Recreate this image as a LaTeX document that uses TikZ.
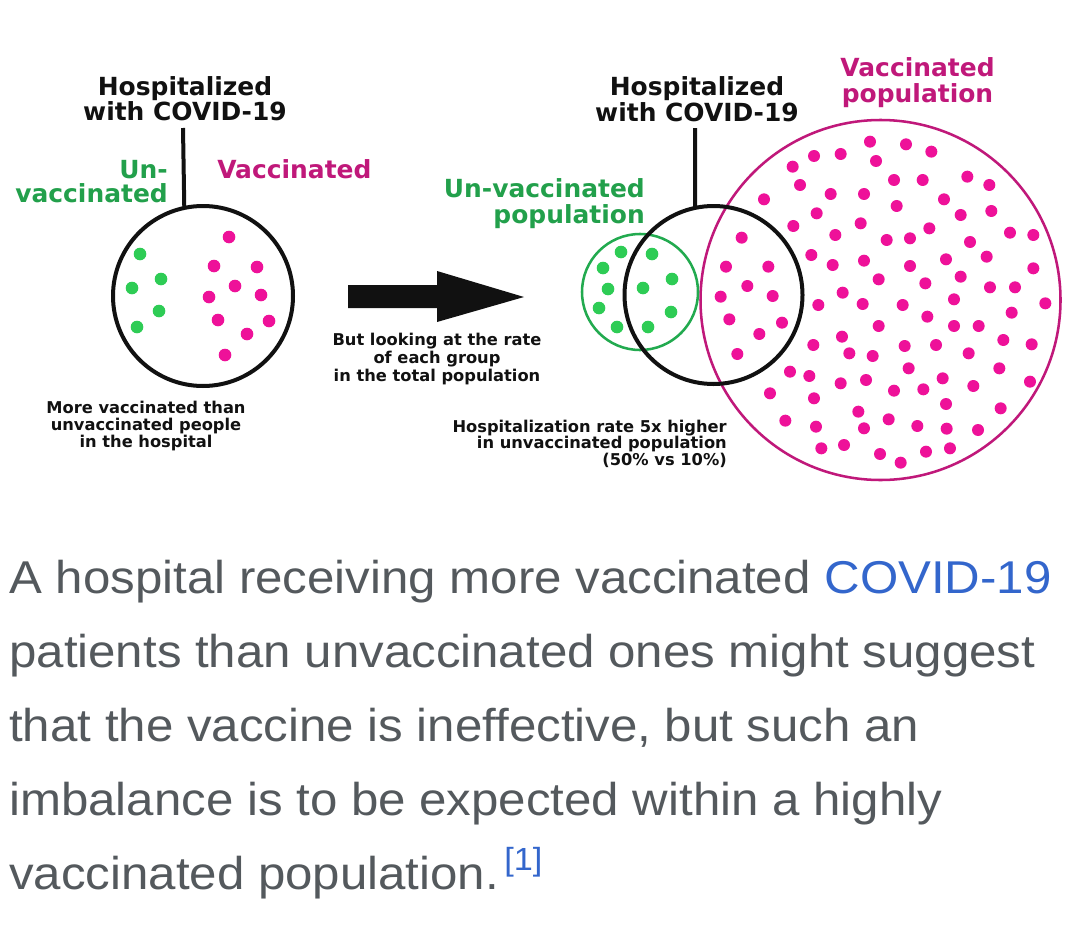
\documentclass[tikz,border=0pt]{standalone}
\usepackage{fontspec}
\setmainfont{DejaVu Sans}
\newfontfamily\capfont[FakeStretch=1.07]{Liberation Sans}
\definecolor{inkblack}{HTML}{111111}
\definecolor{txtgreen}{HTML}{22A04B}
\definecolor{dotgreen}{HTML}{2ECC55}
\definecolor{ringgreen}{HTML}{22AA4F}
\definecolor{dotpink}{HTML}{EE1199}
\definecolor{txtpink}{HTML}{C0187A}
\definecolor{capgray}{HTML}{54595D}
\definecolor{linkblue}{HTML}{3366CC}
\begin{document}
\begin{tikzpicture}[x=0.75pt,y=-0.75pt,
  head/.style={font=\bfseries\fontsize{18.7}{19}\selectfont, inner sep=0pt, anchor=base},
  smalltxt/.style={font=\bfseries\fontsize{12.2}{12}\selectfont, text=inkblack, inner sep=0pt, anchor=base},
  captxt/.style={font=\capfont\fontsize{34.5}{40}\selectfont, text=capgray, inner sep=0pt, anchor=base west},
  ring/.style={circle, inner sep=0pt, outer sep=0pt},
  mdot/.style={fill=dotpink},
  gdot/.style={fill=dotgreen}]
\useasboundingbox (0,0) rectangle (1080,942);
\fill[white] (0,0) rectangle (1080,942);

% ---------- left panel ----------
\node[head, text=inkblack] (hL1) at (185,95) {Hospitalized};
\node[head, text=inkblack] (hL2) at (185,120) {with COVID-19};
\node[head, text=txtgreen, anchor=base east] (uL1) at (168,178) {Un-};
\node[head, text=txtgreen, anchor=base east] (uL2) at (168,202) {vaccinated};
\node[head, text=txtpink, anchor=base west] (vL) at (217,178) {Vaccinated};
\node[ring, draw=inkblack, line width=3pt, minimum size=135pt] (hospL) at (203,296) {};
\coordinate (topL) at (183,128);
\draw[line width=3pt, inkblack] (topL) -- (hospL.102.8);
\foreach \p in {(140,254),(161,279),(132,288),(159,311),(137,327)}
  \fill[gdot] \p circle[radius=6.3];
\foreach \p in {(229,237),(214,266),(257,267),(235,286),(209,297),(261,295),(218,320),(269,321),(247,334),(225,355)}
  \fill[mdot] \p circle[radius=6.3];
\node[smalltxt] (mL1) at (146,413) {More vaccinated than};
\node[smalltxt] (mL2) at (146,430) {unvaccinated people};
\node[smalltxt] (mL3) at (146,447) {in the hospital};

% ---------- arrow ----------
\fill[inkblack] (348,285) -- (437,285) -- (437,271) -- (524,297) -- (437,322) -- (437,308) -- (348,308) -- cycle;
\node[smalltxt] (b1) at (437,345) {But looking at the rate};
\node[smalltxt] (b2) at (437,363) {of each group};
\node[smalltxt] (b3) at (437,381) {in the total population};

% ---------- right panel ----------
\node[ring, draw=txtpink, line width=1.9pt, minimum size=270pt] (vacpop) at (880.5,300) {};
\begin{scope}[shift={(690,50)}, scale=1/3]
\foreach \p in {(540,275),(648,283),(724,305),(372,318),(452,312),(558,333),(308,350),(330,405),(612,390),(698,390),(832,380),(898,405),(422,432),(522,432),(222,448),(620,468),(762,448),(380,490),(512,520),(812,495),(904,483),(310,528),(718,535),(960,548),(1030,555),(155,563),(436,555),(590,570),(660,565),(840,576),(364,615),(522,632),(768,628),(890,620),(108,650),(235,650),(428,645),(660,648),(1030,655),(566,688),(812,680),(172,708),(248,738),(92,740),(458,728),(706,700),(900,712),(975,712),(385,765),(518,762),(638,765),(792,748),(1066,760),(118,808),(276,818),(712,800),(965,788),(566,828),(792,828),(866,828),(208,852),(456,860),(370,885),(478,910),(548,918),(644,888),(738,885),(940,870),(1025,883),(142,912),(836,910),(656,955),(300,965),(358,978),(928,955),(240,1030),(452,1000),(528,990),(612,1022),(700,1018),(758,985),(850,1008),(1020,995),(372,1045),(768,1062),(505,1085),(596,1108),(932,1075),(286,1112),(378,1130),(522,1135),(682,1128),(770,1136),(864,1140),(394,1195),(462,1185),(570,1212),(632,1238),(708,1205),(780,1195)}
  \fill[mdot] \p circle[radius=18];
\end{scope}
\node[ring, draw=ringgreen, line width=1.9pt, minimum size=87pt] (unvpop) at (640,292) {};
\foreach \p in {(621,252),(652,254),(603,268),(608,289),(643,288),(672,279),(599,308),(671,312),(617,327),(648,327)}
  \fill[gdot] \p circle[radius=6.3];
\node[ring, draw=inkblack, line width=3pt, minimum size=133.5pt] (hospR) at (713.5,295) {};
\coordinate (topR) at (695,128);
\draw[line width=3pt, inkblack] (topR) -- (hospR.102);

\node[head, text=inkblack] (hR1) at (697,95) {Hospitalized};
\node[head, text=inkblack] (hR2) at (697,121) {with COVID-19};
\node[head, text=txtpink] (vR1) at (917.5,76) {Vaccinated};
\node[head, text=txtpink] (vR2) at (917.5,103) {population};
\node[head, text=txtgreen, anchor=base east] (uR1) at (645,197) {Un-vaccinated};
\node[head, text=txtgreen, anchor=base east] (uR2) at (645,223) {population};
\node[smalltxt, anchor=base east] (r1) at (727,432) {Hospitalization rate 5x higher};
\node[smalltxt, anchor=base east] (r2) at (727,448) {in unvaccinated population};
\node[smalltxt, anchor=base east] (r3) at (727,465) {(50\% vs 10\%)};

% ---------- caption ----------
\node[captxt] (c1) at (9,593) {A hospital receiving more vaccinated \textcolor{linkblue}{COVID-19}};
\node[captxt] (c2) at (9,667) {patients than unvaccinated ones might suggest};
\node[captxt] (c3) at (9,741) {that the vaccine is ineffective, but such an};
\node[captxt] (c4) at (9,815) {imbalance is to be expected within a highly};
\node[captxt] (c5) at (9,889) {vaccinated population.\hspace{4pt}\raisebox{14pt}{\fontsize{24}{25}\selectfont\textcolor{linkblue}{[1]}}};
\end{tikzpicture}
\end{document}
